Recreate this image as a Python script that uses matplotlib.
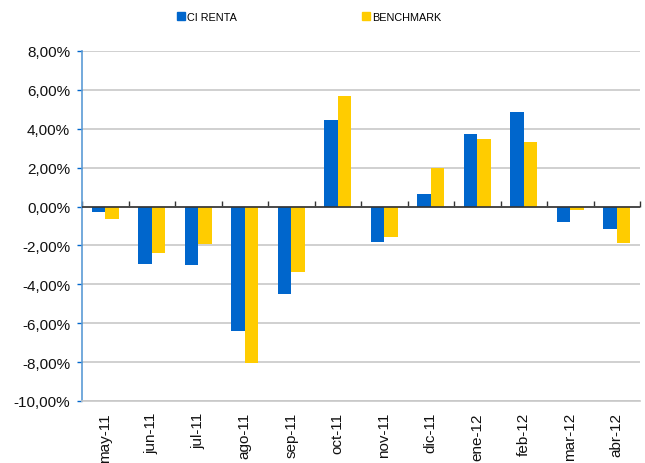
import matplotlib
matplotlib.use("Agg")
import matplotlib.pyplot as plt
import numpy as np
from matplotlib.patches import Patch

categories = ["may-11", "jun-11", "jul-11", "ago-11", "sep-11", "oct-11",
              "nov-11", "dic-11", "ene-12", "feb-12", "mar-12", "abr-12"]
ci_renta = [-0.29, -2.93, -3.03, -6.39, -4.48, 4.44, -1.84, 0.67, 3.72, 4.86, -0.81, -1.17]
benchmark = [-0.62, -2.41, -1.95, -8.02, -3.34, 5.68, -1.58, 1.98, 3.46, 3.31, -0.19, -1.89]
yticks = [-10, -8, -6, -4, -2, 0, 2, 4, 6, 8]

plt.rcParams['font.family'] = ['Liberation Sans', 'DejaVu Sans']

BLUE = "#0066cc"
YELLOW = "#ffcc00"

fig = plt.figure(figsize=(6.45, 4.64), dpi=100)
ax = fig.add_axes([82/645, 1 - 402/464, (640-82)/645, (402-52)/464])

x = np.arange(len(categories)) + 0.5
w = 0.29
ax.bar(x - w/2, ci_renta, width=w, color=BLUE, zorder=3)
ax.bar(x + w/2, benchmark, width=w, color=YELLOW, zorder=3)

ymin, ymax = -10, 8
ax.set_ylim(ymin, ymax)
ax.set_xlim(0, len(categories))
ax.set_yticks(yticks)
ax.set_yticklabels([f"{v:.2f}".replace(".", ",") + "%" for v in yticks], fontsize=11)
ax.yaxis.grid(True, color="#c8c8c8", linewidth=1.2, zorder=0)
ax.set_axisbelow(True)

for s in ["top", "right"]:
    ax.spines[s].set_visible(False)
ax.spines["left"].set_color("#5b9bd5")
ax.spines["left"].set_linewidth(1.2)
ax.spines["bottom"].set_color("#c8c8c8")
ax.spines["bottom"].set_linewidth(1.2)
ax.tick_params(axis="y", colors="#0066cc", length=3.6, width=1, labelcolor="#111111", pad=5)

ax.set_xticks(x)
ax.set_xticklabels(categories, rotation=90, fontsize=11)
ax.tick_params(axis="x", length=0, pad=8, labelcolor="#111111")

# zero line with category boundary ticks
ax.axhline(0, color="#333333", linewidth=1.2, zorder=4)
loc = (0 - ymin) / (ymax - ymin)
sec = ax.secondary_xaxis(loc)
sec.set_xticks(np.arange(len(categories) + 1))
sec.set_xticklabels([])
sec.tick_params(axis="x", direction="out", length=4, width=1, color="#333333")
sec.spines["bottom"].set_visible(False)
sec.spines["top"].set_visible(False)

handles = [Patch(color=BLUE, label="CI RENTA"), Patch(color=YELLOW, label="BENCHMARK")]
fig.legend(handles=handles, loc="center left", bbox_to_anchor=(177/645, 1 - 18/464),
           ncol=2, frameon=False, fontsize=7.8, handlelength=0.75, handleheight=0.75,
           handletextpad=0.2, columnspacing=11.5, borderpad=0, borderaxespad=0)

fig.savefig("out.png", dpi=100)
